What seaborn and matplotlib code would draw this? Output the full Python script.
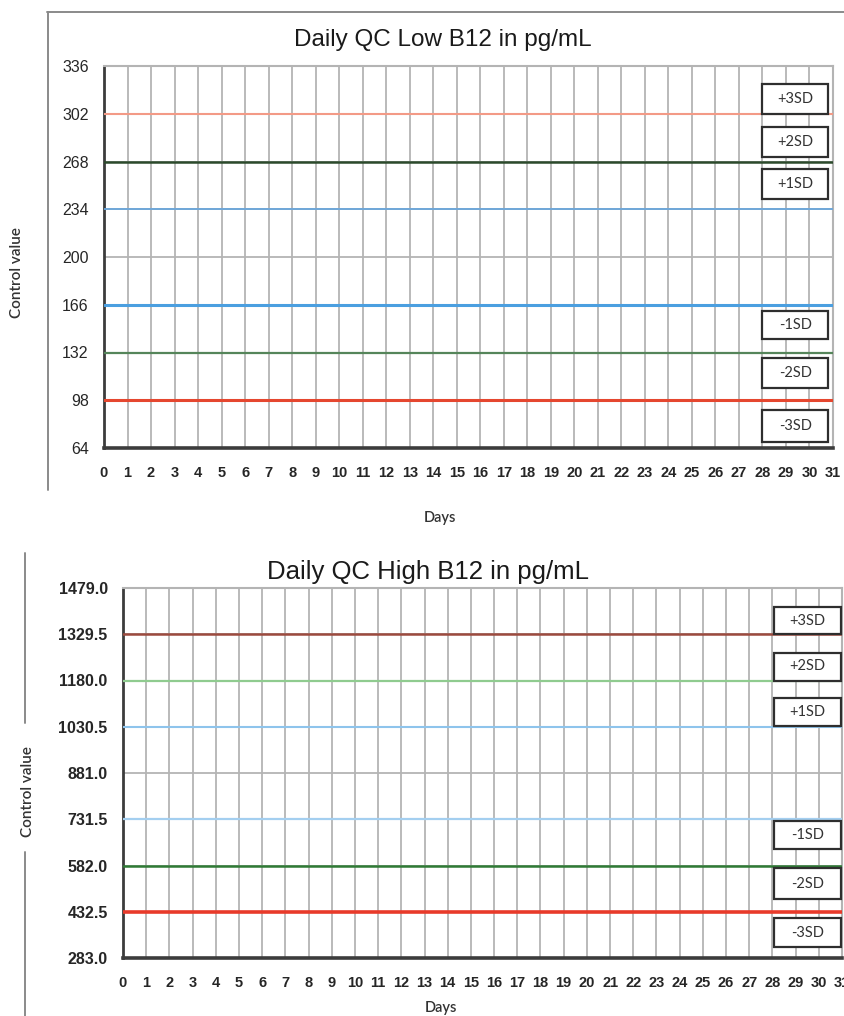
import matplotlib
matplotlib.use("Agg")
import matplotlib.pyplot as plt
from matplotlib.lines import Line2D
from matplotlib.patches import Rectangle
import pandas as pd
import seaborn as sns

# ---- data -------------------------------------------------------------
days = list(range(0, 32))
sd_labels = ["+3SD", "+2SD", "+1SD", "-1SD", "-2SD", "-3SD"]

low_title = "Daily QC Low B12 in pg/mL"
low_levels = [302, 268, 234, 166, 132, 98]
low_yticks = [64, 98, 132, 166, 200, 234, 268, 302, 336]

high_title = "Daily QC High B12 in pg/mL"
high_levels = [1329.5, 1180.0, 1030.5, 731.5, 582.0, 432.5]
high_yticks = [283.0, 432.5, 582.0, 731.5, 881.0, 1030.5, 1180.0, 1329.5, 1479.0]

x_label = "Days"
y_label = "Control value"

# ---- styles -----------------------------------------------------------
low_colors = ["#f39a86", "#2c4a2c", "#6aa6dc", "#4b9fe0", "#55855a", "#e5472f"]
low_widths = [1.5, 1.8, 1.3, 2.2, 1.6, 2.2]
high_colors = ["#9c4a3e", "#8fcb8f", "#8ec4ec", "#a4cff0", "#2f7a35", "#e83a2a"]
high_widths = [1.8, 1.6, 1.5, 1.6, 1.8, 2.6]

# label boxes: gap from the line and box height, in pixels
low_box_gap = [0, 4.5, 10, 6, 5.5, 9.5]
low_box_h = [30, 30, 30, 28, 30, 32]
high_box_gap = [0, 0, 1, 2, 2.5, 6.5]
high_box_h = [27, 28, 28, 28, 31, 29]

W, H = 845, 1016
sns.set_style("white")
plt.rcParams["font.family"] = ["Liberation Sans", "DejaVu Sans"]

fig = plt.figure(figsize=(W / 100, H / 100), dpi=100)


def fx(px):
    return px / W


def fy(py):
    return 1 - py / H


def axes_rect(left, top, right, bottom):
    return [fx(left), fy(bottom), (right - left) / W, (bottom - top) / H]


GRID = "#b4b4b4"
DARK = "#3c3c3c"
TEXT = "#262626"


def draw_chart(ax, levels, yticks, colors, widths, box_gap, box_h, box_x,
               ytick_fmt, ytick_size, ytick_weight, ax_h_px):
    df = pd.DataFrame({
        "day": [days[0], days[-1]] * len(levels),
        "value": [v for v in levels for _ in range(2)],
        "band": [b for b in sd_labels for _ in range(2)],
    })
    sns.lineplot(data=df, x="day", y="value", hue="band", size="band",
                 palette=dict(zip(sd_labels, colors)),
                 sizes=dict(zip(sd_labels, widths)),
                 legend=False, ax=ax, zorder=3)

    ax.set_xlim(days[0], days[-1])
    ax.set_ylim(yticks[0], yticks[-1])
    ax.set_xticks(days)
    ax.set_yticks(yticks)
    ax.set_yticklabels([ytick_fmt.format(t) for t in yticks],
                       fontsize=ytick_size, fontweight=ytick_weight, color=TEXT)
    ax.set_xticklabels([str(d) for d in days],
                       family=["Liberation Sans Narrow", "Liberation Sans"],
                       fontsize=10.5, fontweight="bold", color=TEXT)
    ax.set_xlabel("")
    ax.set_ylabel("")
    ax.grid(True, color=GRID, linewidth=1.3, zorder=0)
    ax.set_axisbelow(True)
    ax.tick_params(axis="x", direction="out", length=5, width=1.2,
                   color="#555555", pad=8)
    ax.tick_params(axis="y", direction="out", length=5, width=1.2,
                   color="#555555", pad=6)
    for side in ("top", "right"):
        ax.spines[side].set_color(GRID)
        ax.spines[side].set_linewidth(1.5)
    ax.spines["left"].set_color(DARK)
    ax.spines["left"].set_linewidth(2.0)
    ax.spines["bottom"].set_color(DARK)
    ax.spines["bottom"].set_linewidth(2.6)

    per_px = (yticks[-1] - yticks[0]) / ax_h_px
    for lab, lev, gap, hpx in zip(sd_labels, levels, box_gap, box_h):
        h = hpx * per_px
        if lab.startswith("+"):
            y0 = lev + gap * per_px
        else:
            y0 = lev - gap * per_px - h
        ax.add_patch(Rectangle((box_x[0], y0), box_x[1] - box_x[0], h,
                               facecolor="white", edgecolor="#2e2e2e",
                               linewidth=1.6, zorder=5, clip_on=False))
        ax.text((box_x[0] + box_x[1]) / 2, y0 + h / 2, lab,
                ha="center", va="center", fontsize=10.5, color="#333333",
                family=["Lato", "DejaVu Sans"], zorder=6)


# ---- low control chart ------------------------------------------------
ax1 = fig.add_axes(axes_rect(104, 66, 833, 448))
draw_chart(ax1, low_levels, low_yticks, low_colors, low_widths,
           low_box_gap, low_box_h, (28.0, 30.8), "{:d}", 11.5, "normal", 382)

# ---- high control chart -----------------------------------------------
ax2 = fig.add_axes(axes_rect(123, 588, 842, 958))
draw_chart(ax2, high_levels, high_yticks, high_colors, high_widths,
           high_box_gap, high_box_h, (28.05, 30.97), "{:.1f}", 11.5, "bold", 370)

# titles and axis captions
fig.text(fx(443), fy(40), low_title, ha="center", va="center",
         fontsize=17.5, color="#1a1a1a")
fig.text(fx(428), fy(572), high_title, ha="center", va="center",
         fontsize=18.5, color="#1a1a1a")
for (x, y) in [(440, 518), (441, 1008)]:
    fig.text(fx(x), fy(y), x_label, ha="center", va="center", fontsize=10.5,
             fontweight="semibold", color="#333333",
             family=["Lato", "DejaVu Sans"])
for (x, y) in [(17, 273), (28, 792)]:
    fig.text(fx(x), fy(y), y_label, ha="center", va="center", rotation=90,
             fontsize=11, fontweight="semibold", color="#333333",
             family=["Lato", "DejaVu Sans"])

# chart frame borders
frame_kw = dict(transform=fig.transFigure, color="#8a8a8a", linewidth=1.4)
fig.add_artist(Line2D([fx(47), fx(845)], [fy(12), fy(12)], **frame_kw))
fig.add_artist(Line2D([fx(48), fx(48)], [fy(12), fy(490)], **frame_kw))
fig.add_artist(Line2D([fx(25), fx(25)], [fy(553), fy(723)], **frame_kw))
fig.add_artist(Line2D([fx(25), fx(25)], [fy(852), fy(1016)], **frame_kw))

fig.savefig("out.png", dpi=100)
